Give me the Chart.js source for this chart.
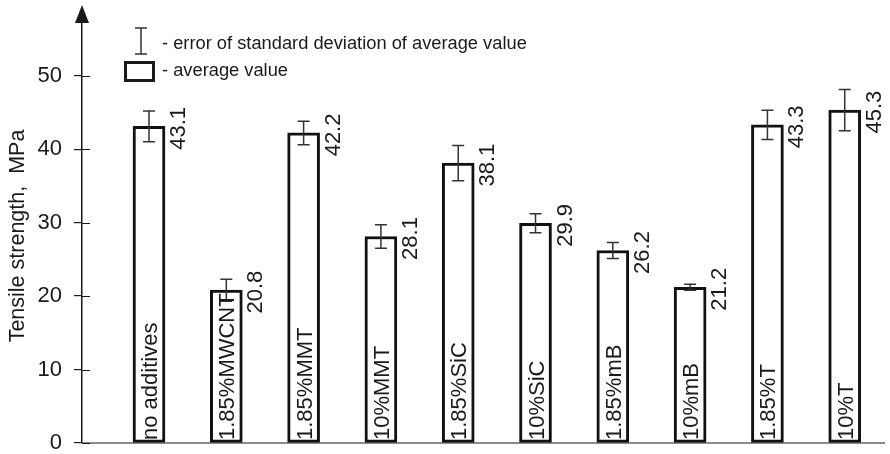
<!DOCTYPE html>
<html>
<head>
<meta charset="utf-8">
<script src="https://cdn.jsdelivr.net/npm/chart.js@4.4.0/dist/chart.umd.min.js"></script>
<style>
  html, body { margin: 0; padding: 0; background: #fff; }
</style>
</head>
<body>
<canvas id="myChart" width="890" height="454"></canvas>
<script>
const categories = ['no additives', '1.85%MWCNT', '1.85%MMT', '10%MMT', '1.85%SiC',
                    '10%SiC', '1.85%mB', '10%mB', '1.85%T', '10%T'];
const averages = [43.1, 20.8, 42.2, 28.1, 38.1, 29.9, 26.2, 21.2, 43.3, 45.3];
const deviations = [2.1, 1.5, 1.6, 1.6, 2.4, 1.3, 1.1, 0.4, 2.0, 2.8];
const yTicks = [0, 10, 20, 30, 40, 50];
const yTitle = 'Tensile strength,  MPa';

const FONT = '"Liberation Sans", Arial, Helvetica, sans-serif';
const INK = '#1a1a1a';

// error bars, value labels and in-bar category labels
const barNotes = {
    id: 'barNotes',
    afterDatasetsDraw(chart) {
        const ctx = chart.ctx;
        const y = chart.scales.y;
        const bars = chart.getDatasetMeta(0).data;
        ctx.save();
        bars.forEach((bar, i) => {
            const cx = bar.x;
            const half = bar.width / 2;
            const top = y.getPixelForValue(averages[i] + deviations[i]);
            const bot = y.getPixelForValue(averages[i] - deviations[i]);
            ctx.strokeStyle = '#333';
            ctx.lineWidth = 1.5;
            ctx.beginPath();
            ctx.moveTo(cx, top); ctx.lineTo(cx, bot);
            ctx.moveTo(cx - 6, top); ctx.lineTo(cx + 6, top);
            ctx.moveTo(cx - 6, bot); ctx.lineTo(cx + 6, bot);
            ctx.stroke();

            ctx.fillStyle = INK;
            ctx.font = '22px ' + FONT;
            ctx.textBaseline = 'alphabetic';

            ctx.save();
            ctx.translate(cx + half + 20, bar.y + 2);
            ctx.rotate(-Math.PI / 2);
            ctx.textAlign = 'center';
            ctx.fillText(averages[i].toFixed(1), 0, 0);
            ctx.restore();

            ctx.save();
            ctx.translate(cx + 8, y.getPixelForValue(0) - 3);
            ctx.rotate(-Math.PI / 2);
            ctx.textAlign = 'left';
            ctx.fillText(categories[i], 0, 0);
            ctx.restore();
        });
        ctx.restore();
    },
    afterDraw(chart) {
        const ctx = chart.ctx;
        const area = chart.chartArea;
        const y = chart.scales.y;
        const y0 = y.getPixelForValue(0);
        ctx.save();
        ctx.strokeStyle = INK;
        ctx.lineWidth = 1.2;
        ctx.beginPath();
        ctx.moveTo(area.left, y0); ctx.lineTo(area.right, y0);
        // inner half of the crossing ticks
        yTicks.forEach(v => {
            const py = Math.round(y.getPixelForValue(v)) + 0.5;
            ctx.moveTo(area.left, py); ctx.lineTo(area.left + 8, py);
        });
        ctx.stroke();

        // arrow head on the y axis
        ctx.fillStyle = INK;
        ctx.beginPath();
        ctx.moveTo(area.left, 5);
        ctx.lineTo(area.left - 7, area.top + 1);
        ctx.lineTo(area.left + 7, area.top + 1);
        ctx.closePath();
        ctx.fill();

        // axis title
        ctx.save();
        ctx.translate(24, 236);
        ctx.rotate(-Math.PI / 2);
        ctx.font = '21.5px ' + FONT;
        ctx.textAlign = 'center';
        ctx.textBaseline = 'alphabetic';
        ctx.fillText(yTitle, 0, 0);
        ctx.restore();

        // legend
        ctx.strokeStyle = '#333';
        ctx.lineWidth = 1.5;
        ctx.beginPath();
        ctx.moveTo(141, 28); ctx.lineTo(141, 54);
        ctx.moveTo(135, 28); ctx.lineTo(147, 28);
        ctx.moveTo(135, 54); ctx.lineTo(147, 54);
        ctx.stroke();
        ctx.strokeStyle = INK;
        ctx.lineWidth = 3;
        ctx.strokeRect(125.5, 62.5, 28, 18);

        ctx.fillStyle = INK;
        ctx.font = '18.3px ' + FONT;
        ctx.textAlign = 'left';
        ctx.textBaseline = 'middle';
        ctx.fillText('- error of standard deviation of average value', 162, 44);
        ctx.fillText('- average value', 162, 71);
        ctx.restore();
    }
};

new Chart(document.getElementById('myChart'), {
    type: 'bar',
    data: {
        datasets: [{
            data: averages.map((v, i) => ({ x: i, y: v })),
            backgroundColor: '#ffffff',
            borderColor: '#111111',
            borderWidth: 3,
            borderSkipped: false,
            barThickness: 32
        }]
    },
    options: {
        responsive: false,
        animation: false,
        devicePixelRatio: 1,
        layout: { padding: { left: 0, right: 5, top: 22, bottom: 11 } },
        plugins: {
            legend: { display: false },
            tooltip: { enabled: false }
        },
        scales: {
            x: {
                type: 'linear',
                min: -0.8668,
                max: 9.521,
                offset: false,
                bounds: 'data',
                display: false,
                ticks: { display: false },
                grid: { offset: false },
                afterFit: s => { s.paddingLeft = 0; s.paddingRight = 0; }
            },
            y: {
                min: 0,
                max: 57.3,
                afterBuildTicks: s => { s.ticks = yTicks.map(v => ({ value: v })); },
                afterFit: s => { s.width = 82; s.paddingTop = 0; s.paddingBottom = 0; },
                grid: { drawOnChartArea: false, drawTicks: true, tickLength: 8, color: INK, lineWidth: 1.2 },
                border: { display: true, color: INK, width: 1.5 },
                ticks: { font: { family: FONT, size: 22 }, color: INK, padding: 12 }
            }
        }
    },
    plugins: [barNotes]
});
</script>
</body>
</html>
